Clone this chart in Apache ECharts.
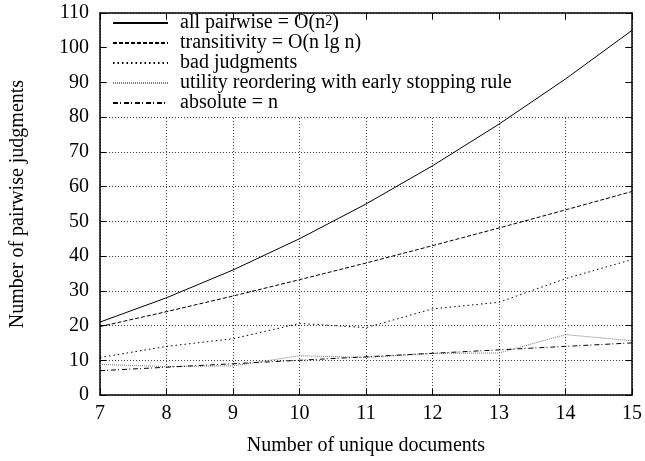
<!DOCTYPE html>
<html><head><meta charset="utf-8">
<script src="https://cdn.jsdelivr.net/npm/echarts@6/dist/echarts.min.js"></script>
<style>html,body{margin:0;padding:0;background:#fff}#c{width:645px;height:461px}</style>
</head><body><div id="c"></div>
<script>
var docs = [7, 8, 9, 10, 11, 12, 13, 14, 15];
var allPairwise = [21, 28, 36, 45, 55, 66, 78, 91, 105];
var transitivity = [19.7, 24, 28.5, 33.2, 38, 43, 48.1, 53.3, 58.6];
var badJudgments = [10.8, 14, 16.2, 20.6, 19.4, 24.8, 26.7, 33.5, 39];
var utility = [8.8, 8.2, 8.4, 11.3, 10.8, 12, 12.1, 17.4, 15.6];
var absolute = [7, 8, 9, 10, 11, 12, 13, 14, 15];
var names = ['all pairwise = O(n2)', 'transitivity = O(n lg n)', 'bad judgments',
  'utility reordering with early stopping rule', 'absolute = n'];
var yTicks = {min: 0, max: 110, interval: 10};
var xTicks = {min: 7, max: 15, interval: 1};

var FONT = '"Liberation Serif", "Times New Roman", serif';
var FS = 20;
function pairs(ys){ return docs.map(function(x,i){ return [x, ys[i]]; }); }
function mk(name, ys, type, color, w){
  return {name: name, type: 'line', data: pairs(ys), symbol: 'none', showSymbol: false, silent: true,
    lineStyle: {color: color, width: w || 1, type: type}, itemStyle: {color: color}, z: 5};
}
var axisBase = {
  axisLine: {show: true, onZero: false, lineStyle: {color: '#000', width: 1.5}},
  axisTick: {show: true, inside: true, length: 6, lineStyle: {color: '#000', width: 1}}
};
var chart = echarts.init(document.getElementById('c'), null, {renderer: 'canvas'});
var option = {
  animation: false,
  backgroundColor: '#fff',
  textStyle: {fontFamily: FONT},
  grid: {left: 99, right: 13, top: 13, bottom: 65, containLabel: false},
  legend: {
    orient: 'vertical', left: 112, top: 13, padding: 0, itemWidth: 55, itemHeight: 12, itemGap: 0,
    itemStyle: {opacity: 0},
    formatter: function (name) {
      var m = name.match(/^(.*O\(n)2(\))$/);
      if (m) return '{t|' + m[1] + '}{s|2}{t|' + m[2] + '}';
      return '{t|' + name + '}';
    },
    textStyle: {fontFamily: FONT, fontSize: FS, color: '#000', padding: [0, 0, 0, 7],
      rich: {
        t: {fontFamily: FONT, fontSize: FS, color: '#000', lineHeight: 18},
        s: {fontFamily: FONT, fontSize: 14, color: '#000', lineHeight: 6, verticalAlign: 'top'}
      }},
    data: names
  },
  xAxis: [
    Object.assign({type: 'value', min: xTicks.min, max: xTicks.max, interval: xTicks.interval,
      name: 'Number of unique documents', nameLocation: 'middle', nameGap: 41,
      nameTextStyle: {fontFamily: FONT, fontSize: FS, color: '#000'},
      axisLabel: {fontFamily: FONT, fontSize: FS, color: '#000', margin: 9},
      splitLine: {show: true, lineStyle: {color: '#444', type: [1, 2], width: 1}}}, axisBase),
    Object.assign({type: 'value', position: 'top', min: xTicks.min, max: xTicks.max, interval: xTicks.interval,
      axisLabel: {show: false}, splitLine: {show: false}}, axisBase)
  ],
  yAxis: [
    Object.assign({type: 'value', min: yTicks.min, max: yTicks.max, interval: yTicks.interval,
      name: 'Number of pairwise judgments', nameLocation: 'middle', nameGap: 72, nameRotate: 90,
      nameTextStyle: {fontFamily: FONT, fontSize: FS, color: '#000'},
      axisLabel: {fontFamily: FONT, fontSize: FS, color: '#000', margin: 11},
      splitLine: {show: true, lineStyle: {color: '#444', type: [1, 2], width: 1}}}, axisBase),
    Object.assign({type: 'value', position: 'right', min: yTicks.min, max: yTicks.max, interval: yTicks.interval,
      axisLabel: {show: false}, splitLine: {show: false}}, axisBase)
  ],
  series: [
    mk(names[0], allPairwise, 'solid', '#000'),
    mk(names[1], transitivity, [4, 2], '#000'),
    mk(names[2], badJudgments, [1.5, 3], '#000'),
    mk(names[3], utility, [1, 1], '#777'),
    mk(names[4], absolute, [5, 2, 1, 3], '#000')
  ]
};
chart.setOption(option);
// mask the grid inside the key band (above the 80 line), as in the reference
var p0 = chart.convertToPixel({xAxisIndex: 0, yAxisIndex: 0}, [xTicks.min, yTicks.max]);
var p1 = chart.convertToPixel({xAxisIndex: 0, yAxisIndex: 0}, [xTicks.max, 80]);
chart.setOption({graphic: {z: 2, elements: [{type: 'rect', silent: true, z: 2,
  shape: {x: p0[0] + 7, y: p0[1] + 7, width: p1[0] - p0[0] - 14, height: p1[1] - p0[1] - 8},
  style: {fill: '#fff'}}]}});
</script></body></html>
